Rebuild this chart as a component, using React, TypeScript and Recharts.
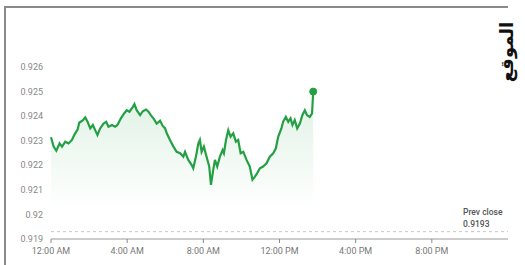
import React from "react";
import { ComposedChart, Area, XAxis, YAxis, ReferenceLine, ReferenceDot } from "recharts";

const hours = [0, 0.14, 0.28, 0.45, 0.58, 0.75, 0.92, 1.1, 1.22, 1.4, 1.48, 1.68, 1.8, 1.92, 2.06, 2.2, 2.32, 2.44, 2.58, 2.76, 2.9, 3.02, 3.2, 3.37, 3.49, 3.67, 3.84, 3.98, 4.12, 4.3, 4.38, 4.5, 4.68, 4.82, 4.99, 5.12, 5.24, 5.38, 5.55, 5.73, 5.87, 5.99, 6.08, 6.25, 6.43, 6.6, 6.78, 6.95, 7.04, 7.21, 7.39, 7.47, 7.61, 7.74, 7.82, 7.91, 8.03, 8.17, 8.31, 8.4, 8.52, 8.61, 8.73, 8.87, 9.01, 9.08, 9.19, 9.31, 9.43, 9.57, 9.71, 9.83, 9.96, 10.1, 10.27, 10.44, 10.58, 10.71, 10.83, 10.97, 11.14, 11.32, 11.49, 11.67, 11.81, 11.93, 12.1, 12.19, 12.33, 12.46, 12.58, 12.68, 12.8, 12.93, 13.07, 13.2, 13.33, 13.45, 13.59, 13.71, 13.77];
const prices = [0.92314, 0.92276, 0.92259, 0.92289, 0.92276, 0.92296, 0.92289, 0.92303, 0.92323, 0.92346, 0.92373, 0.92384, 0.92395, 0.92377, 0.9235, 0.92364, 0.92343, 0.92323, 0.9235, 0.9237, 0.92377, 0.92357, 0.92364, 0.92357, 0.92364, 0.92391, 0.92411, 0.92424, 0.92418, 0.92438, 0.92449, 0.92424, 0.92404, 0.9242, 0.92427, 0.92418, 0.92404, 0.92391, 0.9237, 0.92381, 0.9236, 0.9235, 0.9233, 0.92303, 0.92276, 0.92255, 0.92249, 0.92235, 0.92255, 0.92222, 0.92201, 0.92188, 0.92235, 0.92289, 0.92303, 0.92255, 0.92276, 0.92235, 0.92195, 0.9212, 0.92181, 0.92222, 0.92195, 0.92235, 0.92262, 0.92249, 0.92303, 0.92343, 0.92316, 0.9233, 0.92296, 0.92303, 0.92249, 0.92255, 0.92222, 0.92195, 0.92141, 0.92154, 0.92168, 0.92188, 0.92195, 0.92208, 0.92235, 0.92249, 0.92269, 0.92316, 0.9235, 0.92377, 0.92397, 0.92377, 0.92391, 0.92364, 0.92384, 0.9235, 0.9237, 0.92404, 0.92424, 0.92404, 0.92397, 0.92411, 0.925];

const xTicks = [0, 4, 8, 12, 16, 20];
const xTickLabels = ["12:00 AM", "4:00 AM", "8:00 AM", "12:00 PM", "4:00 PM", "8:00 PM"];
const yTicks = [0.919, 0.92, 0.921, 0.922, 0.923, 0.924, 0.925, 0.926];
const prevClose = 0.9193;
const prevCloseLabel = "Prev close";
const logoText = "الموقع";

const data = hours.map((t, i) => ({ t, p: prices[i] }));
const GREEN = "#24a044";

const PrevLabel = (props: any) => {
  const vb = props.viewBox || {};
  const x = vb.x + vb.width - 45;
  const y = vb.y;
  return (
    <g>
      <text x={x} y={y - 17} fontSize={8.5} fill="#555" fontFamily="Roboto, sans-serif" fontWeight={500}>{prevCloseLabel}</text>
      <text x={x} y={y - 5} fontSize={8.5} fill="#555" fontFamily="Roboto, sans-serif" fontWeight={500}>{String(prevClose)}</text>
    </g>
  );
};

export default function App() {
  return (
    <div style={{ position: "absolute", left: 0, top: 0, width: 525, height: 265, background: "#fff", overflow: "hidden" }}>
      <div style={{ position: "absolute", left: 4, top: 6, width: 504, height: 0, borderTop: "2px solid #8a8a8a" }} />
      <div style={{ position: "absolute", left: 4, top: 6, width: 0, height: 260, borderLeft: "2px solid #8a8a8a" }} />
      <div
        style={{
          position: "absolute",
          left: 475,
          top: 42,
          width: 64,
          height: 20,
          lineHeight: "20px",
          textAlign: "center",
          transform: "rotate(-90deg)",
          fontFamily: "'DejaVu Sans', sans-serif",
          fontWeight: 700,
          fontSize: 18,
          color: "#111",
          direction: "rtl",
        }}
      >
        {logoText}
      </div>
      <ComposedChart width={525} height={265} data={data} margin={{ top: 67, right: 17, bottom: 0, left: 0 }}>
        <defs>
          <linearGradient id="fillG" x1="0" y1="0" x2="0" y2="1">
            <stop offset="0%" stopColor={GREEN} stopOpacity={0.24} />
            <stop offset="80%" stopColor={GREEN} stopOpacity={0} />
          </linearGradient>
        </defs>
        <XAxis
          type="number"
          dataKey="t"
          domain={[0, 24]}
          ticks={xTicks}
          tickFormatter={(v: number) => xTickLabels[xTicks.indexOf(v)]}
          axisLine={{ stroke: "#999", strokeWidth: 1 }}
          tickLine={{ stroke: "#888" }}
          tickSize={4}
          tickMargin={5}
          height={26}
          tick={{ fontSize: 9, fill: "#777", fontFamily: "Roboto, sans-serif" }}
        />
        <YAxis
          type="number"
          domain={[0.919, 0.926]}
          ticks={yTicks}
          tickFormatter={(v: number) => String(Number(v.toFixed(3)))}
          axisLine={false}
          tickLine={false}
          width={51}
          tick={{ fontSize: 9, fill: "#888", fontFamily: "Roboto, sans-serif" }}
        />
        <ReferenceLine y={prevClose} stroke="#c8c8c8" strokeDasharray="3 3" label={<PrevLabel />} />
        <Area
          type="linear"
          dataKey="p"
          stroke={GREEN}
          strokeWidth={2.2}
          fill="url(#fillG)"
          isAnimationActive={false}
          dot={false}
          activeDot={false}
        />
        <ReferenceDot x={hours[hours.length - 1]} y={prices[prices.length - 1]} r={3.5} fill={GREEN} stroke={GREEN} />
      </ComposedChart>
    </div>
  );
}
